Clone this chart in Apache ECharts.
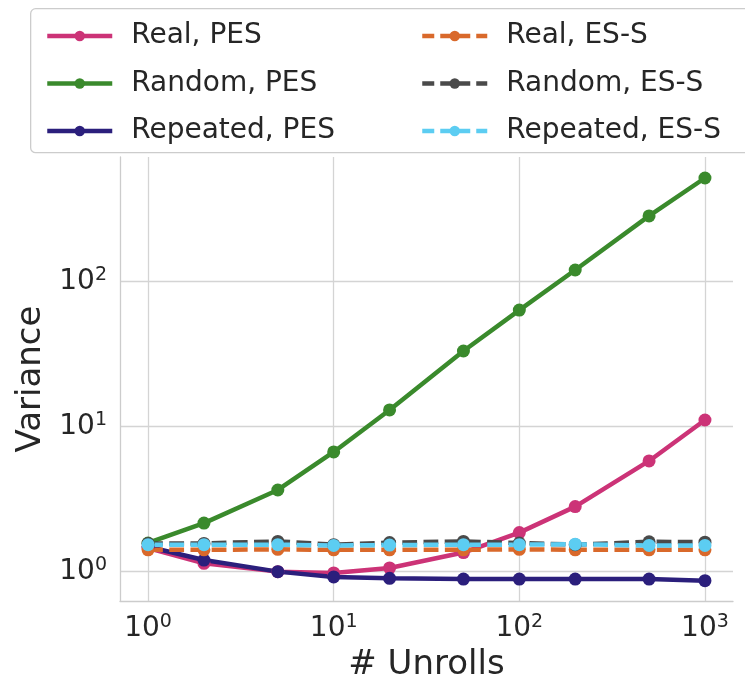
<!DOCTYPE html>
<html>
<head>
<meta charset="utf-8">
<script src="https://cdn.jsdelivr.net/npm/echarts@6/dist/echarts.min.js"></script>
<style>html,body{margin:0;padding:0;background:#fff}#c{width:745px;height:678px}</style>
</head>
<body>
<div id="c"></div>
<script>
const unrolls = [1, 2, 5, 10, 20, 50, 100, 200, 500, 1000];
const realPES = [1.44, 1.13, 0.99, 0.97, 1.05, 1.34, 1.84, 2.78, 5.74, 11.0];
const randomPES = [1.56, 2.14, 3.62, 6.62, 12.9, 32.9, 63, 119, 281, 513];
const repeatedPES = [1.47, 1.19, 0.99, 0.91, 0.89, 0.88, 0.88, 0.88, 0.88, 0.857];
const realESS = [1.40, 1.40, 1.41, 1.40, 1.40, 1.40, 1.41, 1.40, 1.40, 1.40];
const randomESS = [1.55, 1.55, 1.60, 1.52, 1.57, 1.60, 1.56, 1.52, 1.59, 1.58];
const repeatedESS = [1.52, 1.52, 1.52, 1.50, 1.51, 1.52, 1.52, 1.53, 1.50, 1.50];
const xTicks = [1, 10, 100, 1000];
const yTicks = [1, 10, 100];

const FONT = 'DejaVu Sans';
const pair = (ys) => unrolls.map((x, i) => [x, ys[i]]);
function powLabel(v, ticks) {
  for (let i = 0; i < ticks.length; i++) {
    if (Math.abs(v - ticks[i]) / ticks[i] < 1e-6) {
      return '{b|10}{s|' + Math.round(Math.log10(ticks[i])) + '}';
    }
  }
  return '';
}
const richLab = {
  b: { fontFamily: FONT, fontSize: 28, color: '#262626', lineHeight: 30, verticalAlign: 'bottom' },
  s: { fontFamily: FONT, fontSize: 19, color: '#262626', lineHeight: 19, verticalAlign: 'top' }
};
const C = {
  real: '#cc3377', random: '#3a8a2c', repeated: '#2b1f7c',
  realS: '#d9692b', randomS: '#4a4a4a', repeatedS: '#5ccdf2'
};
const DASH = [14.8, 6.4];
function mk(name, data, color, dashed) {
  return {
    name: name, type: 'line', data: pair(data),
    symbol: 'circle', symbolSize: 13,
    lineStyle: { color: color, width: 4.5, type: dashed ? DASH : 'solid' },
    itemStyle: { color: color },
    emphasis: { disabled: true },
    animation: false
  };
}
function legItem(name, color, dashed) {
  return {
    name: name,
    itemStyle: { color: color },
    lineStyle: { color: color, width: 4.5, type: dashed ? [12, 6] : 'solid' }
  };
}
const legendText = { fontFamily: FONT, fontSize: 28, color: '#262626', lineHeight: 30, padding: [0, 0, 0, 14] };
const chart = echarts.init(document.getElementById('c'), null, { renderer: 'canvas' });
chart.setOption({
  backgroundColor: '#fff',
  animation: false,
  graphic: [{
    type: 'rect', left: 30, top: 8, z: 10,
    shape: { width: 740, height: 144, r: 5 },
    style: { fill: '#fff', stroke: '#cccccc', lineWidth: 1.3 }
  }],
  legend: [{
    data: [legItem('Real, PES', C.real, false), legItem('Random, PES', C.random, false), legItem('Repeated, PES', C.repeated, false)],
    orient: 'vertical', left: 40, top: 16, itemGap: 17.5, itemWidth: 65, itemHeight: 13,
    textStyle: legendText, z: 20, selectedMode: false
  }, {
    data: [legItem('Real, ES-S', C.realS, true), legItem('Random, ES-S', C.randomS, true), legItem('Repeated, ES-S', C.repeatedS, true)],
    orient: 'vertical', left: 415, top: 16, itemGap: 17.5, itemWidth: 65, itemHeight: 13,
    textStyle: legendText, z: 20, selectedMode: false
  }],
  grid: { left: 120, right: 12, top: 157, bottom: 77, containLabel: false, outerBoundsMode: 'none' },
  xAxis: {
    type: 'log', logBase: 10, min: 0.706, max: 1416,
    name: '# Unrolls', nameLocation: 'middle', nameGap: 42,
    nameTextStyle: { fontFamily: FONT, fontSize: 34, color: '#262626' },
    axisLine: { show: true, lineStyle: { color: '#cccccc', width: 1.3 } },
    axisTick: { show: false },
    minorTick: { show: false },
    splitLine: { show: true, showMinLine: false, showMaxLine: false, lineStyle: { color: '#d4d4d4', width: 1.3 } },
    axisLabel: { margin: 12, showMinLabel: false, showMaxLabel: false,
      formatter: (v) => powLabel(v, xTicks), rich: richLab }
  },
  yAxis: {
    type: 'log', logBase: 10, min: 0.621, max: 716,
    name: 'Variance', nameLocation: 'middle', nameGap: 66,
    nameTextStyle: { fontFamily: FONT, fontSize: 34, color: '#262626' },
    axisLine: { show: true, lineStyle: { color: '#cccccc', width: 1.3 } },
    axisTick: { show: false },
    minorTick: { show: false },
    splitLine: { show: true, showMinLine: false, showMaxLine: false, lineStyle: { color: '#d4d4d4', width: 1.3 } },
    axisLabel: { margin: 13, showMinLabel: false, showMaxLabel: false,
      formatter: (v) => powLabel(v, yTicks), rich: richLab }
  },
  series: [
    mk('Real, PES', realPES, C.real, false),
    mk('Random, PES', randomPES, C.random, false),
    mk('Repeated, PES', repeatedPES, C.repeated, false),
    mk('Real, ES-S', realESS, C.realS, true),
    mk('Random, ES-S', randomESS, C.randomS, true),
    mk('Repeated, ES-S', repeatedESS, C.repeatedS, true)
  ]
});
</script>
</body>
</html>
